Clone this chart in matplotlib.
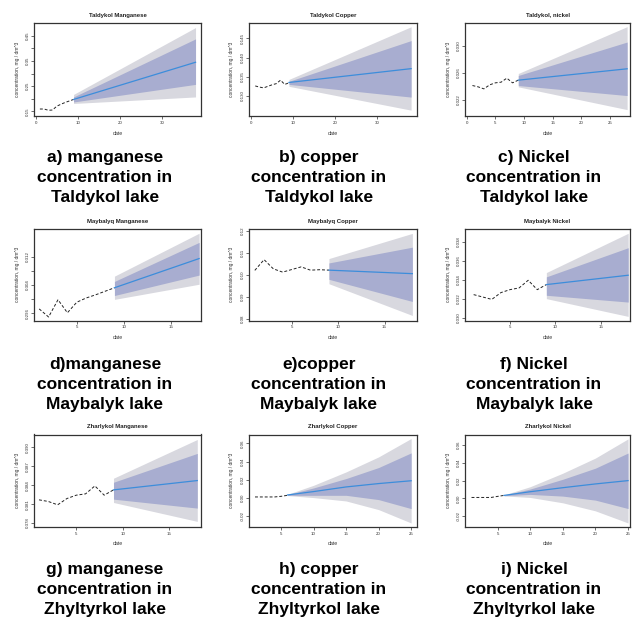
import matplotlib
matplotlib.use("Agg")
import matplotlib.pyplot as plt

plt.rcParams['font.family'] = ['Liberation Sans', 'DejaVu Sans']

# ---------------- data ----------------
titles = ["Taldykol Manganese", "Taldykol Copper", "Taldykol, nickel",
          "Maybalyq Manganese", "Maybalyq Copper", "Maybalyk Nickel",
          "Zharlykol Manganese", "Zharlykol Copper", "Zharlykol Nickel"]

captions = [["a) manganese", "concentration in", "Taldykol lake"],
            ["b) copper", "concentration in", "Taldykol lake"],
            ["c) Nickel", "concentration in", "Taldykol lake"],
            ["d)manganese", "concentration in", "Maybalyk lake"],
            ["e)copper", "concentration in", "Maybalyk lake"],
            ["f) Nickel", "concentration in", "Maybalyk lake"],
            ["g) manganese", "concentration in", "Zhyltyrkol lake"],
            ["h) copper", "concentration in", "Zhyltyrkol lake"],
            ["i) Nickel", "concentration in", "Zhyltyrkol lake"]]

# observed series
hist_x_a = [1, 2, 3, 4, 5, 6, 7, 8, 9]
hist_y_a = [0.159, 0.159, 0.154, 0.155, 0.170, 0.178, 0.185, 0.191, 0.197]
hist_x_b = [1, 2, 3, 4, 5, 6, 7, 8, 9]
hist_y_b = [0.1326, 0.1323, 0.1321, 0.1325, 0.1329, 0.1332, 0.1341, 0.1330, 0.1334]
hist_x_c = [1, 2, 3, 4, 5, 6, 7, 8, 9]
hist_y_c = [0.0241, 0.0239, 0.0236, 0.0242, 0.0245, 0.0246, 0.0252, 0.0245, 0.0249]
hist_x_d = [1, 2, 3, 4, 5, 6, 7, 8, 9]
hist_y_d = [0.2972, 0.2949, 0.2998, 0.2961, 0.2991, 0.3003, 0.3012, 0.3022, 0.3032]
hist_x_e = [1, 2, 3, 4, 5, 6, 7, 8, 9]
hist_y_e = [0.1020, 0.1069, 0.1027, 0.1012, 0.1024, 0.1036, 0.1021, 0.1023, 0.1021]
hist_x_f = [1, 2, 3, 4, 5, 6, 7, 8, 9]
hist_y_f = [0.03246, 0.03221, 0.03196, 0.03267, 0.03298, 0.03316, 0.03396, 0.03298, 0.03351]
hist_x_g = [1, 2, 3, 4, 5, 6, 7, 8, 9]
hist_y_g = [0.38168, 0.38142, 0.38089, 0.38189, 0.38242, 0.38263, 0.38389, 0.38242, 0.38326]
hist_x_h = [1, 2, 3, 4, 5, 6]
hist_y_h = [0.0011, 0.0011, 0.0011, 0.0011, 0.0018, 0.0029]
hist_x_i = [1, 2, 3, 4, 5, 6]
hist_y_i = [0.0011, 0.0011, 0.0011, 0.0011, 0.0023, 0.0034]

# forecasts: x, mean, 80% and 95% bounds
fc_x_a = [9, 38]
fc_mean_a = [0.197, 0.345]
fc_lo80_a = [0.187, 0.257]
fc_hi80_a = [0.207, 0.438]
fc_lo95_a = [0.181, 0.207]
fc_hi95_a = [0.217, 0.483]

fc_x_b = [9, 38]
fc_mean_b = [0.1335, 0.1371]
fc_lo80_b = [0.1330, 0.1297]
fc_hi80_b = [0.1338, 0.1444]
fc_lo95_b = [0.1325, 0.1263]
fc_hi95_b = [0.1343, 0.1480]

fc_x_c = [9, 28]
fc_mean_c = [0.0249, 0.0266]
fc_lo80_c = [0.0241, 0.0226]
fc_hi80_c = [0.0256, 0.0306]
fc_lo95_c = [0.0239, 0.0205]
fc_hi95_c = [0.0259, 0.0329]

fc_x_d = [9, 18]
fc_mean_d = [0.3032, 0.3115]
fc_lo80_d = [0.3010, 0.3068]
fc_hi80_d = [0.3050, 0.3161]
fc_lo95_d = [0.2999, 0.3042]
fc_hi95_d = [0.3065, 0.3187]

fc_x_e = [9, 18]
fc_mean_e = [0.1021, 0.1005]
fc_lo80_e = [0.0979, 0.0878]
fc_hi80_e = [0.1054, 0.1126]
fc_lo95_e = [0.0959, 0.0814]
fc_hi95_e = [0.1074, 0.1189]

fc_x_f = [9, 18]
fc_mean_f = [0.03351, 0.03449]
fc_lo80_f = [0.03239, 0.03168]
fc_hi80_f = [0.03432, 0.03737]
fc_lo95_f = [0.03204, 0.03018]
fc_hi95_f = [0.03477, 0.03888]

fc_x_g = [9, 18]
fc_mean_g = [0.38326, 0.38474]
fc_lo80_g = [0.38179, 0.38037]
fc_hi80_g = [0.38447, 0.38905]
fc_lo95_g = [0.38126, 0.37826]
fc_hi95_g = [0.38511, 0.39126]

fc_x_h = [6, 10, 15, 20, 25]
fc_mean_h = [0.0033, 0.0070, 0.0121, 0.0158, 0.0189]
fc_lo80_h = [0.0029, 0.0029, 0.0029, -0.0018, -0.0117]
fc_hi80_h = [0.0037, 0.0110, 0.0213, 0.0334, 0.0495]
fc_lo95_h = [0.0026, 0.0004, -0.0033, -0.0128, -0.0275]
fc_hi95_h = [0.0040, 0.0139, 0.0286, 0.0451, 0.0653]

fc_x_i = [6, 10, 15, 20, 25]
fc_mean_i = [0.0034, 0.0075, 0.0120, 0.0162, 0.0199]
fc_lo80_i = [0.0031, 0.0045, 0.0026, -0.0019, -0.0113]
fc_hi80_i = [0.0037, 0.0105, 0.0214, 0.0338, 0.0507]
fc_lo95_i = [0.0028, 0.0011, -0.0049, -0.0139, -0.0274]
fc_hi95_i = [0.0040, 0.0131, 0.0282, 0.0451, 0.0665]

# axis ticks
xticks_a = [0, 10, 20, 30]
xticks_b = [0, 10, 20, 30]
xticks_c = [0, 5, 10, 15, 20, 25]
xticks_def = [5, 10, 15]
xticks_hi = [5, 10, 15, 20, 25]

yticks_a = [0.15, 0.20, 0.25, 0.30, 0.35, 0.40, 0.45]
ylabels_a = ["0.15", "", "0.25", "", "0.35", "", "0.45"]
yticks_b = [0.130, 0.135, 0.140, 0.145]
ylabels_b = ["0.130", "0.135", "0.140", "0.145"]
yticks_c = [0.022, 0.026, 0.030]
ylabels_c = ["0.022", "0.026", "0.030"]
yticks_d = [0.296, 0.300, 0.304, 0.308, 0.312]
ylabels_d = ["0.296", "", "0.304", "", "0.312"]
yticks_e = [0.08, 0.09, 0.10, 0.11, 0.12]
ylabels_e = ["0.08", "0.09", "0.10", "0.11", "0.12"]
yticks_f = [0.030, 0.032, 0.034, 0.036, 0.038]
ylabels_f = ["0.030", "0.032", "0.034", "0.036", "0.038"]
yticks_g = [0.378, 0.381, 0.384, 0.387, 0.390]
ylabels_g = ["0.378", "0.381", "0.384", "0.387", "0.390"]
yticks_hi = [-0.02, 0.00, 0.02, 0.04, 0.06]
ylabels_hi = ["-0.02", "0.00", "0.02", "0.04", "0.06"]

# ---------------- layout ----------------
W, H = 642, 617
fig = plt.figure(figsize=(W / 100, H / 100), dpi=100)

col_lr = [(34, 201), (248.5, 417), (465, 630)]
row_tb = [(23.3, 116.3), (229, 320.5), (434.5, 527)]
cap_x = [105, 319, 534]
cap_base = [162, 369, 574]

LIGHT = "#D8D8DF"
DARK = "#A8ADD0"
BLUE = "#3C8DDB"

panels = [
    (hist_x_a, hist_y_a, fc_x_a, fc_mean_a, fc_lo80_a, fc_hi80_a, fc_lo95_a, fc_hi95_a,
     xticks_a, yticks_a, ylabels_a, (-0.4, 39.3), (0.13, 0.50)),
    (hist_x_b, hist_y_b, fc_x_b, fc_mean_b, fc_lo80_b, fc_hi80_b, fc_lo95_b, fc_hi95_b,
     xticks_b, yticks_b, ylabels_b, (-0.6, 39.4), (0.1247, 0.1489)),
    (hist_x_c, hist_y_c, fc_x_c, fc_mean_c, fc_lo80_c, fc_hi80_c, fc_lo95_c, fc_hi95_c,
     xticks_c, yticks_c, ylabels_c, (-0.3, 28.5), (0.0195, 0.0334)),
    (hist_x_d, hist_y_d, fc_x_d, fc_mean_d, fc_lo80_d, fc_hi80_d, fc_lo95_d, fc_hi95_d,
     xticks_def, yticks_d, ylabels_d, (0.45, 18.2), (0.2939, 0.3199)),
    (hist_x_e, hist_y_e, fc_x_e, fc_mean_e, fc_lo80_e, fc_hi80_e, fc_lo95_e, fc_hi95_e,
     xticks_def, yticks_e, ylabels_e, (0.32, 18.5), (0.0791, 0.1209)),
    (hist_x_f, hist_y_f, fc_x_f, fc_mean_f, fc_lo80_f, fc_hi80_f, fc_lo95_f, fc_hi95_f,
     xticks_def, yticks_f, ylabels_f, (0.05, 18.2), (0.02975, 0.03933)),
    (hist_x_g, hist_y_g, fc_x_g, fc_mean_g, fc_lo80_g, fc_hi80_g, fc_lo95_g, fc_hi95_g,
     xticks_def, yticks_g, ylabels_g, (0.46, 18.4), (0.37737, 0.39205)),
    (hist_x_h, hist_y_h, fc_x_h, fc_mean_h, fc_lo80_h, fc_hi80_h, fc_lo95_h, fc_hi95_h,
     xticks_hi, yticks_hi, ylabels_hi, (0.0, 25.9), (-0.0319, 0.0697)),
    (hist_x_i, hist_y_i, fc_x_i, fc_mean_i, fc_lo80_i, fc_hi80_i, fc_lo95_i, fc_hi95_i,
     xticks_hi, yticks_hi, ylabels_hi, (0.0, 25.3), (-0.0319, 0.0714)),
]

for k, p in enumerate(panels):
    (hx, hy, fx, fm, l80, h80, l95, h95, xt, yt, yl, xlim, ylim) = p
    r, c = divmod(k, 3)
    l, rr = col_lr[c]
    t, b = row_tb[r]
    ax = fig.add_axes([l / W, 1 - b / H, (rr - l) / W, (b - t) / H])
    ax.fill_between(fx, l95, h95, color=LIGHT, lw=0)
    ax.fill_between(fx, l80, h80, color=DARK, lw=0)
    ax.plot(hx, hy, color="#222222", lw=0.7, ls=(0, (3, 2)))
    ax.plot(fx, fm, color=BLUE, lw=0.9)
    ax.set_xlim(*xlim)
    ax.set_ylim(*ylim)
    ax.set_xticks(xt)
    ax.set_xticklabels([str(v) for v in xt])
    ax.set_yticks(yt)
    ax.set_yticklabels(yl, rotation=90, va="center")
    ax.tick_params(axis="both", direction="out", length=2, width=0.5,
                   labelsize=3.2, colors="#333333")
    ax.tick_params(axis="x", pad=1.4)
    ax.tick_params(axis="y", pad=0.8)
    for s in ax.spines.values():
        s.set_linewidth(0.9)
        s.set_color("#333333")
    ax.set_xlabel("date", fontsize=3.7, labelpad=4, color="#333333")
    ax.set_ylabel("concentration, mg / dm^3", fontsize=3.5, labelpad=4.5, color="#333333")
    ax.set_title(titles[k], fontsize=4.3, fontweight="bold", pad=4.5, color="#222222")
    for j, line in enumerate(captions[k]):
        fig.text(cap_x[c] / W, 1 - (cap_base[r] + 20 * j) / H, line,
                 ha="center", va="baseline", fontsize=12.5, fontweight="bold",
                 color="black")

fig.savefig("out.png", dpi=100, facecolor="white")
